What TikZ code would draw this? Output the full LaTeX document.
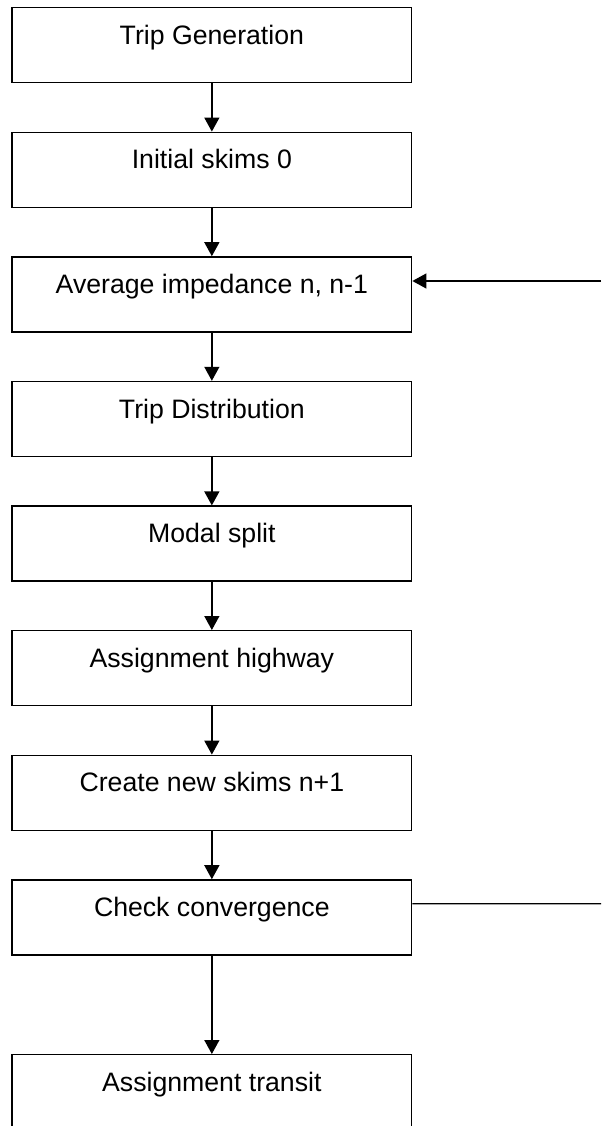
\documentclass[tikz,border=0pt]{standalone}
\usepackage{fontspec}
\setmainfont{Liberation Sans}
\usetikzlibrary{arrows.meta}
\begin{document}
\begin{tikzpicture}[x=0.75pt,y=-0.75pt,
  stepbox/.style={draw=black,line width=1pt,rectangle,inner sep=0pt,
    minimum width=299.8pt,text height=27.5pt,text depth=28.75pt,anchor=north,
    font=\fontsize{20}{24}\selectfont},
  flow/.style={draw=black,line width=1pt,-{Triangle[length=10.5pt,width=11.25pt]}},
  plain/.style={draw=black,line width=1pt}]
\useasboundingbox (0,0) rectangle (601,1126);
\clip (0,0) rectangle (601,1126);
\node[stepbox] (n1) at (211.85,7) {Trip Generation};
\node[stepbox] (n2) at (211.85,131.6) {Initial skims 0};
\node[stepbox] (n3) at (211.85,256.2) {Average impedance n, n-1};
\node[stepbox] (n4) at (211.85,380.8) {Trip Distribution};
\node[stepbox] (n5) at (211.85,505.4) {Modal split};
\node[stepbox] (n6) at (211.85,630) {Assignment highway};
\node[stepbox] (n7) at (211.85,754.6) {Create new skims n+1};
\node[stepbox] (n8) at (211.85,879.2) {Check convergence};
\node[stepbox] (n9) at (211.85,1054) {Assignment transit};
\draw[flow] (n1.south) -- (n2.north);
\draw[flow] (n2.south) -- (n3.north);
\draw[flow] (n3.south) -- (n4.north);
\draw[flow] (n4.south) -- (n5.north);
\draw[flow] (n5.south) -- (n6.north);
\draw[flow] (n6.south) -- (n7.north);
\draw[flow] (n7.south) -- (n8.north);
\draw[flow] (n8.south) -- (n9.north);
\coordinate (fbin) at (601,281);
\coordinate (fbout) at (601,903.7);
\draw[plain] ([yshift=-18.4pt]n8.north east) -- (fbout);
\draw[flow] (fbin) -- ([yshift=-18.6pt]n3.north east);
\end{tikzpicture}
\end{document}
